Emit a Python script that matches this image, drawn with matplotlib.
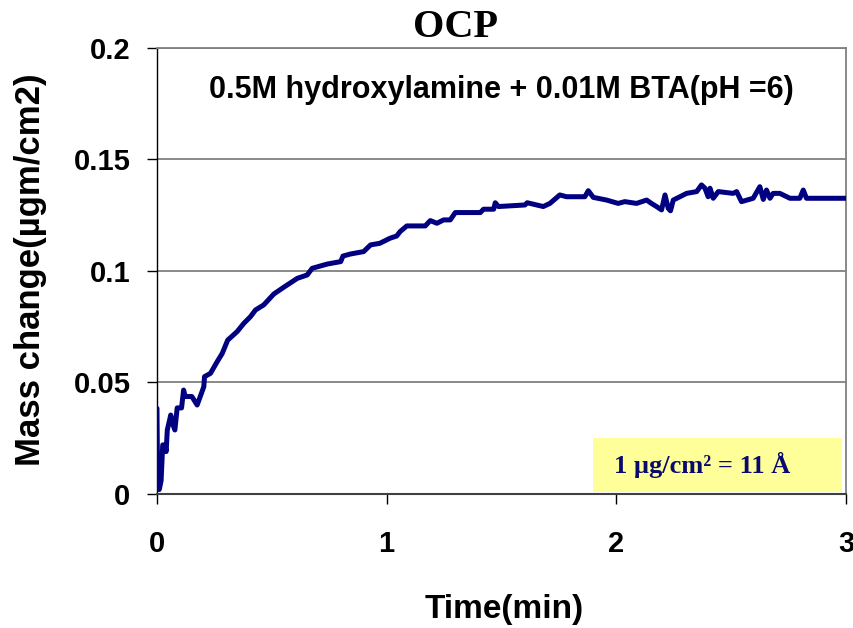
import matplotlib.pyplot as plt
from matplotlib.patches import Rectangle

# OCP mass change measured by QCM
time_min = [0.0, 0.003, 0.01, 0.018, 0.025, 0.035, 0.04, 0.045, 0.06, 0.07, 0.078,
            0.088, 0.107, 0.116, 0.123, 0.152, 0.175, 0.204, 0.207, 0.233, 0.262,
            0.284, 0.308, 0.349, 0.378, 0.407, 0.429, 0.465, 0.509, 0.552, 0.611,
            0.654, 0.676, 0.741, 0.8, 0.81, 0.842, 0.9, 0.93, 0.97, 1.015, 1.044,
            1.058, 1.088, 1.168, 1.19, 1.219, 1.248, 1.277, 1.299, 1.408, 1.422,
            1.466, 1.473, 1.487, 1.602, 1.612, 1.682, 1.711, 1.754, 1.783, 1.863,
            1.878, 1.9, 1.958, 2.008, 2.037, 2.088, 2.132, 2.153, 2.175, 2.197,
            2.212, 2.226, 2.236, 2.248, 2.277, 2.306, 2.35, 2.371, 2.386, 2.4,
            2.408, 2.422, 2.444, 2.509, 2.524, 2.545, 2.596, 2.625, 2.64, 2.654,
            2.669, 2.683, 2.712, 2.756, 2.799, 2.814, 2.828, 3.0]
mass_change = [0.0384, 0.004, 0.002, 0.006, 0.022, 0.022, 0.019, 0.0287, 0.0354, 0.031, 0.0287,
               0.0386, 0.0386, 0.0466, 0.0437, 0.0437, 0.0399, 0.0481, 0.0526, 0.0541, 0.0593,
               0.063, 0.069, 0.0728, 0.0765, 0.0795, 0.0825, 0.0848, 0.0897, 0.0927, 0.0967,
               0.0982, 0.1012, 0.1031, 0.1042, 0.1067, 0.1076, 0.1087, 0.1117, 0.1124, 0.1147, 0.1157,
               0.1176, 0.1202, 0.1202, 0.1226, 0.1214, 0.1229, 0.1229, 0.1262, 0.1262, 0.1277,
               0.1277, 0.1306, 0.1289, 0.1296, 0.1306, 0.1289, 0.1303, 0.1341, 0.1333, 0.1333,
               0.136, 0.133, 0.1318, 0.1303, 0.1311, 0.1303, 0.1318, 0.1303, 0.1289, 0.1274,
               0.1341, 0.1281, 0.127, 0.1318, 0.1333, 0.1348, 0.1356, 0.1386, 0.1371, 0.1333,
               0.1371, 0.1326, 0.1356, 0.1348, 0.1356, 0.1311, 0.1326, 0.1378, 0.1321, 0.1363,
               0.1326, 0.1348, 0.1348, 0.1326, 0.1326, 0.1363, 0.1326, 0.1326]

x_ticks = [0, 1, 2, 3]
y_ticks = [0, 0.05, 0.1, 0.15, 0.2]
y_tick_labels = ['0', '0.05', '0.1', '0.15', '0.2']

sans = 'Liberation Sans'
serif = 'Liberation Serif'

fig = plt.figure(figsize=(8.54, 6.28), dpi=100)
ax = fig.add_axes([0.1838, 0.2134, 0.8068, 0.7102])

ax.plot(time_min, mass_change, color='#000080', linewidth=3.6,
        solid_joinstyle='round', solid_capstyle='round', zorder=3)

ax.set_xlim(0, 3)
ax.set_ylim(0, 0.2)
ax.set_xticks(x_ticks)
ax.set_xticklabels([str(t) for t in x_ticks])
ax.set_yticks(y_ticks)
ax.set_yticklabels(y_tick_labels)
ax.yaxis.grid(True, color='#808080', linewidth=1.3)
ax.set_axisbelow(True)

ax.tick_params(axis='x', direction='out', length=7, width=1, pad=19, labelsize=21)
ax.tick_params(axis='y', direction='out', length=7, width=1, pad=12, labelsize=21)
for lab in ax.get_xticklabels() + ax.get_yticklabels():
    lab.set_fontfamily(sans)
    lab.set_fontweight('bold')

ax.spines['left'].set_color('black')
ax.spines['left'].set_linewidth(1.0)
ax.spines['bottom'].set_color('#404040')
ax.spines['bottom'].set_linewidth(1.5)
ax.spines['top'].set_color('#808080')
ax.spines['top'].set_linewidth(1.3)
ax.spines['right'].set_color('#808080')
ax.spines['right'].set_linewidth(1.3)

fig.text(0.5902, 0.03, 'Time(min)', ha='center', va='center',
         fontsize=24, fontweight='bold', family=sans)
fig.text(0.036, 0.57, 'Mass change(\u00b5gm/cm2)', ha='center', va='center',
         rotation=90, fontsize=25, fontweight='bold', family=sans)
fig.text(0.533, 0.956, 'OCP', ha='center', va='center',
         fontsize=29, fontweight='bold', family=serif)
ax.text(0.5, 0.906, '0.5M hydroxylamine + 0.01M BTA(pH =6)', transform=ax.transAxes,
        ha='center', va='center', fontsize=22, fontweight='bold', family=sans)

# conversion note in the yellow box
ax.add_patch(Rectangle((0.633, 0.005), 0.361, 0.12, transform=ax.transAxes,
                       facecolor='#ffff99', edgecolor='none', zorder=4))
ax.text(0.792, 0.064, '1 \u00b5g/cm\u00b2 = 11 \u00c5', transform=ax.transAxes,
        ha='center', va='center', fontsize=19, fontweight='bold', family=serif,
        color='#0a0a6e', zorder=5)

fig.savefig('out.png', dpi=100)
